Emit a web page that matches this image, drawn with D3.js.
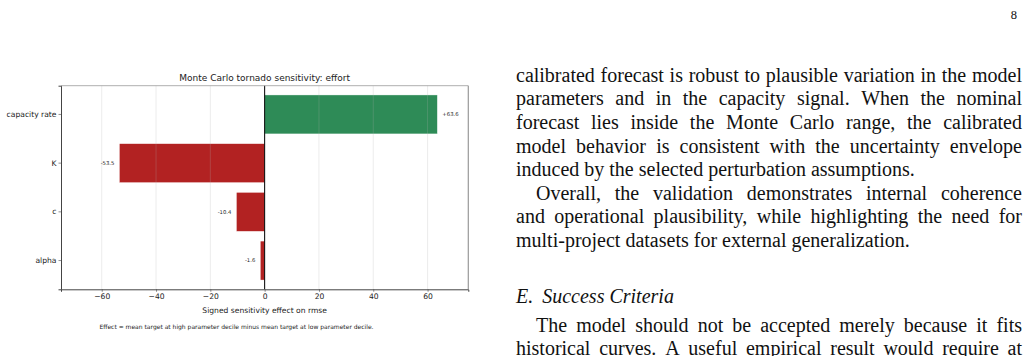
<!DOCTYPE html>
<html>
<head>
<meta charset="utf-8">
<script src="https://cdn.jsdelivr.net/npm/d3@7/dist/d3.min.js"></script>
<style>
  html, body { margin: 0; padding: 0; background: #fff; }
  svg { display: block; }
</style>
</head>
<body>
<div class="wrap"></div>
<script>
// chart values
var params = ["capacity rate", "K", "c", "alpha"];
var effects = [63.6, -53.5, -10.4, -1.6];
var labels = ["+63.6", "-53.5", "-10.4", "-1.6"];
var xTicks = [-60, -40, -20, 0, 20, 40, 60];
var xDomain = [-75, 75];

var chartTitle = "Monte Carlo tornado sensitivity: effort";
var xTitle = "Signed sensitivity effect on rmse";
var footNote = "Effect = mean target at high parameter decile minus mean target at low parameter decile.";

// page text on the right column
var bodyLines = [
  "calibrated forecast is robust to plausible variation in the model",
  "parameters and in the capacity signal. When the nominal",
  "forecast lies inside the Monte Carlo range, the calibrated",
  "model behavior is consistent with the uncertainty envelope",
  "induced by the selected perturbation assumptions.",
  "Overall, the validation demonstrates internal coherence",
  "and operational plausibility, while highlighting the need for",
  "multi-project datasets for external generalization."
];
var bodyJustify = [true, true, true, true, false, true, true, false];
var bodyIndent = [false, false, false, false, false, true, false, false];
var heading = "E. Success Criteria";
var tailLines = [
  "The model should not be accepted merely because it fits",
  "historical curves. A useful empirical result would require at"
];
var pageNo = "8";

var W = 1025, H = 356;
var svg = d3.select(".wrap").append("svg")
  .attr("width", W).attr("height", H);
svg.append("rect").attr("width", W).attr("height", H).attr("fill", "#fff");

var plot = {left: 61, right: 468.3, top: 85.7, bottom: 289.3};

var x = d3.scaleLinear().domain(xDomain).range([plot.left, plot.right]);
var y = d3.scaleBand().domain(params).range([plot.top, plot.bottom])
  .paddingInner(0.2).paddingOuter(0.19);

var font = "DejaVu Sans, sans-serif";
var g = svg.append("g");

// bars
g.selectAll(".bar")
  .data(effects)
  .enter()
  .append("rect")
  .attr("class", "bar")
  .attr("x", function(d){ return x(Math.min(0, d)); })
  .attr("width", function(d){ return Math.abs(x(d) - x(0)); })
  .attr("y", function(d, i){ return y(params[i]); })
  .attr("height", y.bandwidth())
  .attr("fill", function(d){ return d >= 0 ? "#2e8b57" : "#b22222"; })
  .attr("stroke", "#fff").attr("stroke-width", 0.4);

// grid lines (drawn on top, faint)
g.selectAll(".grid")
  .data(xTicks)
  .enter()
  .append("line")
  .attr("x1", function(d){ return x(d); })
  .attr("x2", function(d){ return x(d); })
  .attr("y1", plot.top).attr("y2", plot.bottom)
  .attr("stroke", "#b0b0b0").attr("stroke-opacity", 0.3).attr("stroke-width", 0.8);

// zero line
g.append("line")
  .attr("x1", x(0)).attr("x2", x(0))
  .attr("y1", plot.top).attr("y2", plot.bottom)
  .attr("stroke", "#000").attr("stroke-width", 1);

// value labels
g.selectAll(".val")
  .data(effects)
  .enter()
  .append("text")
  .attr("x", function(d){ return d >= 0 ? x(d) + 5 : x(d) - 5; })
  .attr("y", function(d, i){ return y(params[i]) + y.bandwidth() / 2; })
  .attr("dy", "0.35em")
  .attr("text-anchor", function(d){ return d >= 0 ? "start" : "end"; })
  .style("font-family", font).style("font-size", "5.3px").attr("fill", "#222")
  .text(function(d, i){ return labels[i]; });

// spines
g.append("line").attr("x1", plot.left).attr("x2", plot.right).attr("y1", plot.top).attr("y2", plot.top)
  .attr("stroke", "#999").attr("stroke-width", 0.8);
g.append("line").attr("x1", plot.right).attr("x2", plot.right).attr("y1", plot.top).attr("y2", plot.bottom)
  .attr("stroke", "#999").attr("stroke-width", 1.2);

// X axis
var xAxis = g.append("g")
  .attr("transform", "translate(0," + plot.bottom + ")")
  .call(d3.axisBottom(x).tickValues(xTicks).tickSize(2.5).tickPadding(2));
xAxis.select(".domain").attr("stroke", "#444").attr("stroke-width", 1);
xAxis.selectAll(".tick line").attr("stroke", "#444").attr("stroke-width", 0.6);
xAxis.selectAll("text").style("font-family", font).style("font-size", "7.6px").attr("fill", "#222");

// Y axis
var yAxis = g.append("g")
  .attr("transform", "translate(" + plot.left + ",0)")
  .call(d3.axisLeft(y).tickSize(2.5).tickPadding(2));
yAxis.select(".domain").attr("stroke", "#444").attr("stroke-width", 1);
yAxis.selectAll(".tick line").attr("stroke", "#444").attr("stroke-width", 0.6);
yAxis.selectAll("text").style("font-family", font).style("font-size", "7.6px").attr("fill", "#222");

// titles
g.append("text")
  .attr("x", (plot.left + plot.right) / 2).attr("y", 81)
  .attr("text-anchor", "middle")
  .style("font-family", font).style("font-size", "9px").attr("fill", "#222")
  .text(chartTitle);

g.append("text")
  .attr("x", (plot.left + plot.right) / 2).attr("y", 312.5)
  .attr("text-anchor", "middle")
  .style("font-family", font).style("font-size", "7.6px").attr("fill", "#222")
  .text(xTitle);

g.append("text")
  .attr("x", 236.5).attr("y", 329)
  .attr("text-anchor", "middle")
  .style("font-family", font).style("font-size", "6px").attr("fill", "#222")
  .text(footNote);

// right column text
var serif = "'Liberation Serif', 'Times New Roman', serif";
var colLeft = 516, colRight = 1022, indent = 20, lead = 23.6;

function writeLine(str, baseY, x0, justify, italic, gapFirst) {
  var words = str.split(" ");
  var t = svg.append("g");
  var nodes = words.map(function(w){
    return t.append("text")
      .attr("y", baseY)
      .style("font-family", serif).style("font-size", "20px")
      .style("font-style", italic ? "italic" : "normal")
      .attr("fill", "#111")
      .text(w);
  });
  var widths = nodes.map(function(n){ return n.node().getComputedTextLength(); });
  var sum = d3.sum(widths);
  var gap = justify && words.length > 1 ? (colRight - x0 - sum) / (words.length - 1) : 5;
  var cx = x0;
  nodes.forEach(function(n, i){
    n.attr("x", cx);
    cx += widths[i] + (i == 0 && gapFirst ? gapFirst : gap);
  });
}

bodyLines.forEach(function(s, i){
  writeLine(s, 81.7 + lead * i, colLeft + (bodyIndent[i] ? indent : 0), bodyJustify[i], false);
});
writeLine(heading, 303, colLeft, false, true, 9);
tailLines.forEach(function(s, i){
  writeLine(s, 331.5 + lead * i, colLeft + (i == 0 ? indent : 0), true, false);
});

svg.append("text")
  .attr("x", 1017).attr("y", 19)
  .attr("text-anchor", "end")
  .style("font-family", serif).style("font-size", "12.5px").attr("fill", "#111")
  .text(pageNo);
</script>
</body>
</html>
